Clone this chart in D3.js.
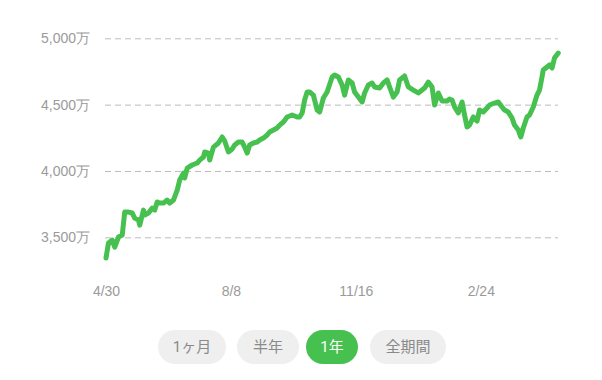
<!DOCTYPE html>
<html>
<head>
<meta charset="utf-8">
<script src="https://cdn.jsdelivr.net/npm/d3@7"></script>
<style>
  html, body { margin: 0; padding: 0; background: #fff; }
  svg { display: block; font-family: Roboto, 'Noto Sans CJK JP', sans-serif; }
  .y-axis .domain, .x-axis .domain, .x-axis .tick line { display: none; }
  .y-axis .tick line { stroke: #bdbdbd; stroke-dasharray: 6 4; }
  .tick text { fill: #9a9a9a; font-size: 14px; }
</style>
</head>
<body>
<svg id="chart"></svg>
<script>
// dates and values (万円)
const dates = [
  '2023-04-30', '2023-05-02', '2023-05-05', '2023-05-07', '2023-05-10', '2023-05-13', '2023-05-15', '2023-05-18',
  '2023-05-21', '2023-05-23', '2023-05-26', '2023-05-27', '2023-05-30', '2023-05-31', '2023-06-03', '2023-06-06',
  '2023-06-08', '2023-06-10', '2023-06-12', '2023-06-15', '2023-06-18', '2023-06-20', '2023-06-23', '2023-06-26',
  '2023-06-28', '2023-07-01', '2023-07-02', '2023-07-04', '2023-07-08', '2023-07-12', '2023-07-14', '2023-07-17',
  '2023-07-18', '2023-07-21', '2023-07-22', '2023-07-25', '2023-07-29', '2023-08-01', '2023-08-03', '2023-08-06',
  '2023-08-09', '2023-08-11', '2023-08-14', '2023-08-17', '2023-08-19', '2023-08-21', '2023-08-23', '2023-08-26',
  '2023-08-29', '2023-08-31', '2023-09-03', '2023-09-06', '2023-09-08', '2023-09-11', '2023-09-14', '2023-09-16',
  '2023-09-19', '2023-09-22', '2023-09-26', '2023-09-30', '2023-10-02', '2023-10-04', '2023-10-06', '2023-10-08',
  '2023-10-10', '2023-10-13', '2023-10-16', '2023-10-18', '2023-10-21', '2023-10-24', '2023-10-28', '2023-10-30',
  '2023-11-02', '2023-11-05', '2023-11-07', '2023-11-10', '2023-11-13', '2023-11-15', '2023-11-18', '2023-11-21',
  '2023-11-23', '2023-11-26', '2023-11-29', '2023-12-01', '2023-12-05', '2023-12-08', '2023-12-11', '2023-12-13',
  '2023-12-16', '2023-12-19', '2023-12-21', '2023-12-24', '2023-12-25', '2023-12-28', '2024-01-01', '2024-01-05',
  '2024-01-08', '2024-01-10', '2024-01-13', '2024-01-16', '2024-01-18', '2024-01-21', '2024-01-24', '2024-01-28',
  '2024-01-30', '2024-02-01', '2024-02-03', '2024-02-06', '2024-02-09', '2024-02-11', '2024-02-13', '2024-02-15',
  '2024-02-18', '2024-02-21', '2024-02-23', '2024-02-26', '2024-02-29', '2024-03-02', '2024-03-06', '2024-03-09',
  '2024-03-12', '2024-03-14', '2024-03-17', '2024-03-20', '2024-03-22', '2024-03-25', '2024-03-27', '2024-03-29',
  '2024-04-01', '2024-04-03', '2024-04-06', '2024-04-09', '2024-04-11', '2024-04-13', '2024-04-14', '2024-04-17',
  '2024-04-19', '2024-04-21', '2024-04-23', '2024-04-26'
];
const values = [
  3344, 3457, 3479, 3426, 3502, 3517, 3690, 3690,
  3683, 3645, 3630, 3592, 3705, 3668, 3683, 3720,
  3705, 3766, 3758, 3758, 3781, 3758, 3781, 3856,
  3932, 3984, 3947, 4022, 4045, 4060, 4082, 4105,
  4143, 4135, 4082, 4180, 4211, 4256, 4226, 4143,
  4165, 4196, 4218, 4218, 4180, 4135, 4196, 4211,
  4218, 4233, 4248, 4271, 4294, 4309, 4324, 4346,
  4369, 4407, 4422, 4407, 4407, 4437, 4535, 4595,
  4595, 4572, 4459, 4444, 4550, 4595, 4708, 4723,
  4708, 4648, 4572, 4686, 4663, 4595, 4557, 4520,
  4588, 4648, 4663, 4633, 4625, 4663, 4686, 4633,
  4557, 4595, 4686, 4708, 4716, 4633, 4610, 4588,
  4610, 4625, 4670, 4633, 4497, 4588, 4527, 4527,
  4542, 4535, 4482, 4437, 4520, 4422, 4331, 4346,
  4407, 4376, 4459, 4444, 4474, 4497, 4512, 4520,
  4482, 4459, 4444, 4399, 4346, 4309, 4256, 4324,
  4407, 4422, 4482, 4572, 4610, 4708, 4761, 4784,
  4799, 4776, 4851, 4889
];
const yTicks = [3500, 4000, 4500, 5000];
const xTicks = ['2023-04-30', '2023-08-08', '2023-11-16', '2024-02-24'];
const periods = ['1ヶ月', '半年', '1年', '全期間'];
const activePeriod = '1年';

const config = {
  w: 602,
  h: 380,
  left: 106,
  right: 562,
  gridRight: 558,
  top: 38.3,
  bottom: 237.3,
  xLabelY: 293,
  btnY: 330,
  btnH: 34,
  green: '#46c04f',
};

const parse = d3.timeParse('%Y-%m-%d');
const data = dates.map((d, i) => ({ date: parse(d), value: values[i] }));

const svg = d3.select('#chart')
  .attr('width', config.w)
  .attr('height', config.h);

const x = d3.scaleTime()
  .domain([parse('2023-04-30'), parse('2024-04-29')])
  .range([config.left, config.right]);

// 3500 and 5000 gridlines measured in the picture
const y = d3.scaleLinear()
  .domain([3500, 5000])
  .range([config.bottom, config.top]);

// y axis with dashed gridlines
const yAxis = d3.axisLeft(y)
  .tickValues(yTicks)
  .tickFormat((d) => `${d3.format(',')(d)}万`)
  .tickSize(-(config.gridRight - 105))
  .tickPadding(15);
svg.append('g')
  .attr('class', 'y-axis')
  .attr('transform', 'translate(105,0)')
  .call(yAxis);

// x axis, labels only
const xAxis = d3.axisBottom(x)
  .tickValues(xTicks.map(parse))
  .tickFormat(d3.timeFormat('%-m/%-d'))
  .tickSize(0)
  .tickPadding(0);
svg.append('g')
  .attr('class', 'x-axis')
  .attr('transform', `translate(0,${config.xLabelY - 7})`)
  .call(xAxis);

// the line
const line = d3.line()
  .x((d) => x(d.date))
  .y((d) => y(d.value));
svg.append('path')
  .datum(data)
  .attr('d', line)
  .attr('fill', 'none')
  .attr('stroke', config.green)
  .attr('stroke-width', 5)
  .attr('stroke-linejoin', 'round')
  .attr('stroke-linecap', 'round');

// period buttons
const btnX = [158, 237, 306, 370];
const btnW = [68, 62, 52, 76];
const btn = svg.selectAll('g.btn')
  .data(periods)
  .join('g')
  .attr('class', 'btn')
  .attr('transform', (d, i) => `translate(${btnX[i]},${config.btnY})`);
btn.append('rect')
  .attr('width', (d, i) => btnW[i])
  .attr('height', config.btnH)
  .attr('rx', config.btnH / 2)
  .attr('fill', (d) => (d === activePeriod ? config.green : '#efefef'));
btn.append('text')
  .attr('x', (d, i) => btnW[i] / 2)
  .attr('y', config.btnH / 2)
  .attr('dy', '0.35em')
  .attr('text-anchor', 'middle')
  .style('font-size', '15px')
  .attr('fill', (d) => (d === activePeriod ? '#fff' : '#8a8a8a'))
  .text((d) => d);
</script>
</body>
</html>
